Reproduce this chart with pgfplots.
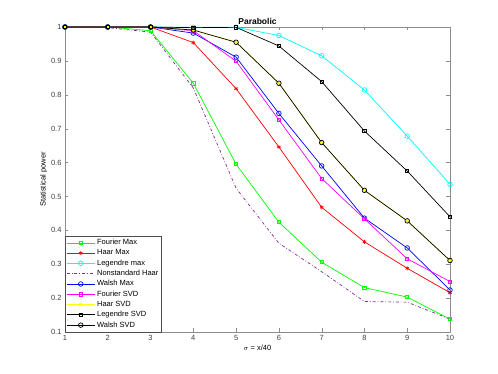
\documentclass[border=0pt]{standalone}
\usepackage{fontspec}
\setmainfont{Liberation Sans}
\usepackage{pgfplots}
\pgfplotsset{compat=1.18}
\definecolor{mpurple}{rgb}{0.49,0.18,0.56}
\definecolor{mcyan}{rgb}{0,1,1}
\definecolor{mgreen}{rgb}{0,1,0}
\definecolor{myellow}{rgb}{1,1,0}
\definecolor{mmagenta}{rgb}{1,0,1}
\definecolor{axgray}{gray}{0.55}
\begin{document}
\begin{tikzpicture}
\begin{axis}[
    name=ax,
    scale only axis,
    width=385pt, height=305pt,
    xmin=1, xmax=10, ymin=0.1, ymax=1,
    xtick={1,...,10},
    ytick={0.1,0.2,...,1.0},
    yticklabels={0.1,0.2,0.3,0.4,0.5,0.6,0.7,0.8,0.9,1},
    tick align=inside,
    tick pos=both,
    major tick length=3.5pt,
    axis line style={axgray},
    tick style={axgray},
    ticklabel style={font=\fontsize{7.5}{8}\selectfont, text=black!75},
    /pgf/number format/assume math mode=true,
    title={\bfseries Parabolic},
    title style={font=\fontsize{8.5}{9}\selectfont, yshift=-7pt},
    xlabel={$\sigma$ = x/40},
    ylabel={Statistical power},
    label style={font=\fontsize{7.5}{8}\selectfont},
    xlabel style={yshift=3pt},
    ylabel style={yshift=-3pt},
    legend cell align=left,
    legend style={font=\fontsize{7.5}{8}\selectfont, draw=black!70, inner sep=1.2pt,
        row sep=-0.6pt, at={(0,0)}, anchor=south west},
    legend image code/.code={\draw[mark repeat=2,mark phase=2]
        plot coordinates {(0pt,0pt) (14pt,0pt) (28pt,0pt)};},
    every axis plot/.append style={line width=0.7pt},
]
\addplot[mgreen, mark=square, mark size=1.6pt] coordinates {
    (1,1) (2,1) (3,0.989) (4,0.834) (5,0.595) (6,0.424) (7,0.306) (8,0.231) (9,0.203) (10,0.138)};
\addlegendentry{Fourier Max}
\addplot[red, mark=asterisk, mark size=2pt] coordinates {
    (1,1) (2,1) (3,1) (4,0.954) (5,0.818) (6,0.646) (7,0.468) (8,0.366) (9,0.288) (10,0.216)};
\addlegendentry{Haar Max}
\addplot[mcyan, mark=o, mark size=2.3pt] coordinates {
    (1,1) (2,1) (3,1) (4,0.999) (5,0.999) (6,0.975) (7,0.915) (8,0.814) (9,0.678) (10,0.536)};
\addlegendentry{Legendre max}
\addplot[mpurple, dash dot] coordinates {
    (1,1) (2,0.998) (3,0.985) (4,0.82) (5,0.524) (6,0.362) (7,0.278) (8,0.19) (9,0.188) (10,0.138)};
\addlegendentry{Nonstandard Haar}
\addplot[blue, mark=o, mark size=2.3pt] coordinates {
    (1,1) (2,1) (3,1) (4,0.982) (5,0.911) (6,0.745) (7,0.59) (8,0.436) (9,0.348) (10,0.224)};
\addlegendentry{Walsh Max}
\addplot[mmagenta, mark=square, mark size=1.6pt] coordinates {
    (1,1) (2,1) (3,1) (4,0.989) (5,0.899) (6,0.726) (7,0.553) (8,0.434) (9,0.316) (10,0.249)};
\addlegendentry{Fourier SVD}
\addplot[myellow, mark=asterisk, mark size=2pt] coordinates {
    (1,1) (2,1) (3,1) (4,0.991) (5,0.955) (6,0.834) (7,0.659) (8,0.518) (9,0.428) (10,0.311)};
\addlegendentry{Haar SVD}
\addplot[black, mark=square, mark size=1.6pt] coordinates {
    (1,1) (2,1) (3,1) (4,0.998) (5,0.999) (6,0.944) (7,0.839) (8,0.693) (9,0.575) (10,0.44)};
\addlegendentry{Legendre SVD}
\addplot[black, mark=o, mark size=2.3pt] coordinates {
    (1,1) (2,1) (3,1) (4,0.991) (5,0.955) (6,0.834) (7,0.659) (8,0.518) (9,0.428) (10,0.311)};
\addlegendentry{Walsh SVD}
\end{axis}
\path ([shift={(-65pt,-42pt)}]ax.south west) rectangle ++(498pt,374pt);
\end{tikzpicture}
\end{document}
